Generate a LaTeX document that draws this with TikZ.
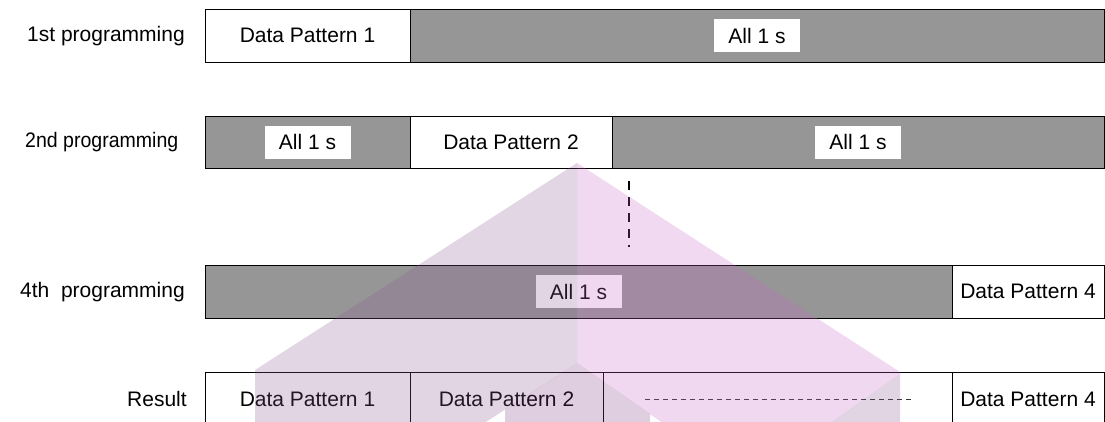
\documentclass[tikz,border=0pt]{standalone}
\usepackage{fontspec}
\setmainfont{Liberation Sans}
\definecolor{cellgray}{RGB}{150,150,150}
\definecolor{wmpink}{RGB}{199,103,199}
\definecolor{wmlav}{RGB}{143,91,147}
\definecolor{wmshaft}{RGB}{125,60,129}
\newcommand{\lblsz}{\fontsize{21}{25}\selectfont}
\tikzset{
  cell/.style={draw=black, line width=1pt, minimum height=53pt, inner sep=0pt, outer sep=0pt, anchor=north west, font=\lblsz},
  graycell/.style={cell, fill=cellgray},
  whitecell/.style={cell, fill=white},
  tag/.style={fill=white, minimum width=86pt, minimum height=33pt, inner sep=0pt, font=\lblsz},
  rowlabel/.style={anchor=west, inner sep=0pt, font=\lblsz},
  wm/.style={fill opacity=0.25, draw=none}
}
\begin{document}
\begin{tikzpicture}[x=1pt, y=-1pt]
\useasboundingbox (0,0) rectangle (1105,421);
\clip (0,0) rectangle (1105,421);
% row labels
\node[rowlabel] (l1) at (27,36) {1st programming};
\node[rowlabel] (l2) at (25,142) {\scalebox{0.93}[1]{2nd programming}};
\node[rowlabel] (l4) at (20,292) {4th\ \ programming};
\node[rowlabel] (l5) at (127,399) {Result};
% row 1
\node[whitecell, minimum width=205pt] (r1a) at (205,9) {Data Pattern 1};
\node[graycell, minimum width=694pt] (r1b) at (410,9) {};
\node[tag] (t1) at (r1b.center) {All 1 s};
% row 2
\node[graycell, minimum width=205pt, minimum height=52pt] (r2a) at (205,116) {};
\node[tag] (t2a) at (r2a.center) {All 1 s};
\node[whitecell, minimum width=202pt, minimum height=52pt] (r2b) at (410,116) {Data Pattern 2};
\node[graycell, minimum width=492pt, minimum height=52pt] (r2c) at (612,116) {};
\node[tag] (t2c) at (r2c.center) {All 1 s};
% dashed vertical mark
\coordinate (v1) at (629,181);
\coordinate (v2) at (629,247);
\draw[line width=2pt, dash pattern=on 9pt off 7pt] (v1) -- (v2);
% row 4
\node[graycell, minimum width=747pt] (r4a) at (205,265) {};
\node[tag] (t4) at (r4a.center) {All 1 s};
\node[whitecell, minimum width=152pt] (r4b) at (952,265) {Data Pattern 4};
% result row
\node[whitecell, minimum width=205pt, minimum height=54pt] (r5a) at (205,372) {Data Pattern 1};
\node[whitecell, minimum width=193pt, minimum height=54pt] (r5b) at (410,372) {Data Pattern 2};
\node[whitecell, minimum width=349pt, minimum height=54pt] (r5c) at (603,372) {};
\node[whitecell, minimum width=152pt, minimum height=54pt] (r5d) at (952,372) {Data Pattern 4};
\coordinate (h1) at (645,399);
\coordinate (h2) at (912,399);
\draw[line width=0.9pt, black!80, dash pattern=on 5pt off 4pt] (h1) -- (h2);
% watermark arrow
\fill[wm, wmlav] (577,163) -- (255,370) -- (255,440) -- (458,440) -- (577,363) -- cycle;
\fill[wm, wmpink] (577,163) -- (900,372) -- (900,374) -- (806,440) -- (687,440) -- (577,363) -- cycle;
\fill[wm, wmlav] (900,374) -- (900,440) -- (806,440) -- cycle;
\fill[wm, wmshaft] (505,440) -- (505,409.5) -- (577,363) -- (650,414) -- (650,440) -- cycle;
\end{tikzpicture}
\end{document}
